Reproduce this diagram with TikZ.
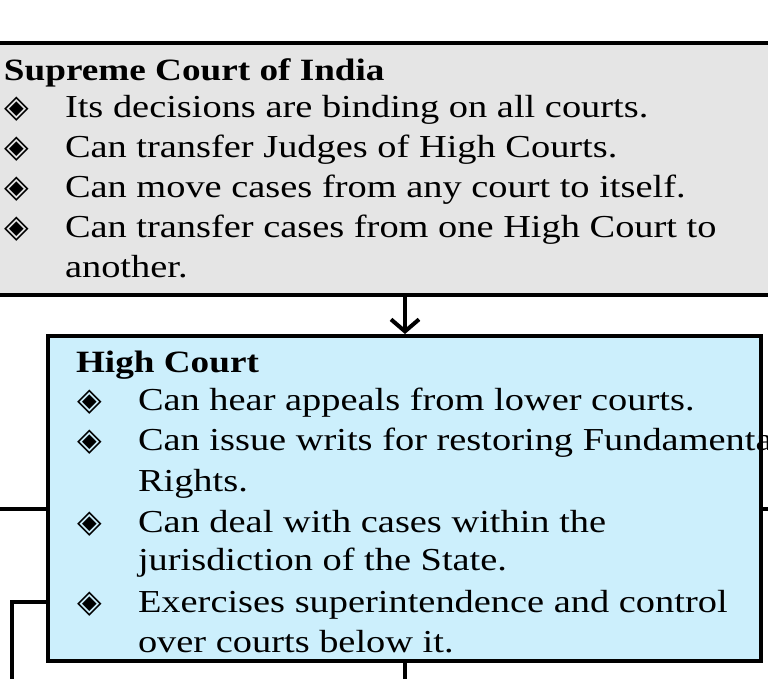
\documentclass[tikz,border=0pt]{standalone}
\usepackage{fontspec}
\setmainfont[FakeStretch=1.2]{Liberation Serif}
\newfontfamily\symfont{DejaVu Sans}
\usetikzlibrary{positioning,arrows.meta}

\begin{document}
\begin{tikzpicture}[x=1pt, y=-1pt, line width=4pt,
	every node/.style={inner sep=0pt, anchor=base west, font=\fontsize{32}{36}\selectfont},
	title/.style={font=\fontsize{31}{36}\selectfont\bfseries},
	bullet/.style={anchor=base, font=\fontsize{32}{36}\symfont}]
	\useasboundingbox (0,0) rectangle (768,678);
	% boxes
	\draw[fill=black!10] (-5,43) rectangle (773,295);
	\draw[fill=cyan!20] (48,336) rectangle (761,661);
	% connectors
	\coordinate (topout) at (405,295);
	\coordinate (hcin) at (405,334);
	\draw[-{Straight Barb[length=12pt,width=28pt]}] (topout) -- (hcin);
	\coordinate (leftA) at (-5,509);
	\coordinate (leftB) at (48,509);
	\draw (leftA) -- (leftB);
	\coordinate (rightA) at (761,509);
	\coordinate (rightB) at (773,509);
	\draw (rightA) -- (rightB);
	\coordinate (dropA) at (48,602);
	\coordinate (dropB) at (12,602);
	\coordinate (dropC) at (12,690);
	\draw (dropA) -- (dropB) -- (dropC);
	\coordinate (hcout) at (405,661);
	\coordinate (hcend) at (405,690);
	\draw (hcout) -- (hcend);
	% Supreme Court
	\node[title] (sc) at (2,80) {Supreme Court of India};
	\foreach \y/\t in {117/Its decisions are binding on all courts.,
		157/Can transfer Judges of High Courts.,
		197/Can move cases from any court to itself.,
		237/Can transfer cases from one High Court to}{
		\node[bullet] at (17,\y) {◈};
		\node at (63,\y) {\t};
	}
	\node (scend) at (63,277) {another.};
	% High Court
	\node[title] (hc) at (74,372) {High Court};
	\foreach \y in {410,450,532,612}
		\node[bullet] at (90,\y) {◈};
	\node (hc1) at (136,410) {Can hear appeals from lower courts.};
	\node (hc2) at (136,450) {Can issue writs for restoring Fundamental};
	\node (hc3) at (136,491) {Rights.};
	\node (hc4) at (136,532) {Can deal with cases within the};
	\node (hc5) at (136,570) {jurisdiction of the State.};
	\node (hc6) at (136,612) {Exercises superintendence and control};
	\node (hc7) at (136,652) {over courts below it.};
\end{tikzpicture}
\end{document}
